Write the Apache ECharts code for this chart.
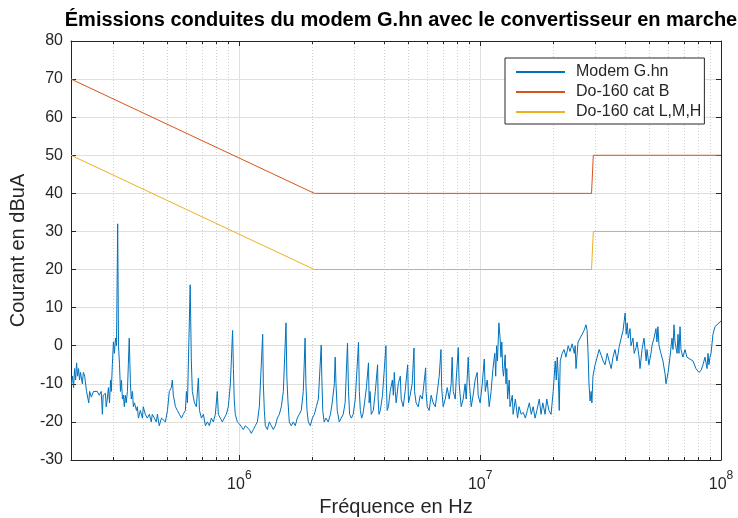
<!DOCTYPE html>
<html>
<head>
<meta charset="utf-8">
<script src="https://cdn.jsdelivr.net/npm/echarts@6/dist/echarts.min.js"></script>
<style>
  html, body { margin: 0; padding: 0; background: #fff; }
  #chart { width: 738px; height: 518px; }
</style>
</head>
<body>
<div id="chart"></div>
<script>
// Conducted emission measurement of the G.hn modem: [frequency in MHz, level in dBuA]
const modemPoints = [
  [0.201,-10],[0.203,-8],[0.205,-11],[0.207,-6],[0.209,-9],[0.211,-4.5],[0.213,-8],[0.215,-6],[0.217,-9],[0.219,-7],
  [0.221,-6.5],[0.223,-10],[0.225,-7],[0.228,-8],[0.232,-12],[0.237,-15],[0.239,-12],[0.243,-13.5],[0.248,-12],[0.252,-12.5],
  [0.257,-12],[0.262,-13],[0.267,-12],[0.270,-18],[0.272,-13],[0.278,-12.5],[0.280,-16],[0.283,-14],[0.286,-11],[0.289,-15],
  [0.292,-9],[0.294,-12],[0.297,-5],[0.300,1],[0.303,-2],[0.306,2],[0.309,0],[0.3125,32],[0.315,0],[0.318,-5],
  [0.321,-12],[0.324,-9],[0.327,-14],[0.330,-13],[0.333,-16],[0.336,-13],[0.339,-15],[0.343,-12],[0.346,-5],[0.349,2],
  [0.353,-10],[0.356,-14],[0.360,-12],[0.363,-16],[0.367,-15],[0.374,-17],[0.377,-16],[0.381,-19],[0.388,-17],[0.396,-19],
  [0.399,-16],[0.407,-18],[0.415,-19],[0.423,-18],[0.431,-20],[0.435,-18],[0.444,-19],[0.452,-20],[0.457,-18],[0.465,-21],
  [0.475,-19],[0.484,-19.5],[0.493,-20],[0.503,-17],[0.512,-12],[0.522,-11],[0.527,-9],[0.532,-13],[0.543,-16],[0.553,-17],
  [0.564,-18],[0.575,-19],[0.585,-18],[0.597,-17],[0.603,-12],[0.609,-15],[0.625,16],[0.632,-4],[0.638,-12],[0.651,-15],
  [0.663,-16],[0.676,-8.5],[0.683,-17],[0.696,-19],[0.709,-18],[0.723,-21],[0.737,-20],[0.751,-21],[0.765,-19],[0.780,-20],
  [0.795,-18],[0.810,-12],[0.818,-18],[0.834,-19],[0.850,-20],[0.866,-19],[0.883,-18],[0.900,-16],[0.918,-10],[0.9375,4],
  [0.945,-6],[0.952,-14],[0.962,-18],[0.981,-20],[1.000,-20.5],[1.019,-21],[1.039,-22],[1.059,-21],[1.079,-21.5],[1.100,-22],
  [1.121,-23],[1.143,-22],[1.165,-21],[1.188,-20],[1.211,-16],[1.25,3],[1.258,-10],[1.27,-17],[1.282,-21],[1.307,-22],
  [1.332,-20],[1.358,-21],[1.384,-22],[1.411,-21],[1.438,-19],[1.466,-18],[1.494,-16],[1.523,-12],[1.5625,6],[1.575,-8],
  [1.59,-14],[1.612,-20],[1.643,-21],[1.675,-20],[1.707,-21],[1.740,-19],[1.774,-18],[1.808,-17],[1.843,-12],[1.875,2],
  [1.89,-10],[1.91,-17],[1.934,-20],[1.972,-21],[2.010,-19],[2.049,-18],[2.088,-16],[2.129,-14],[2.1875,0.2],[2.20,-8],
  [2.22,-17],[2.25,-20],[2.29,-19],[2.34,-20],[2.39,-18],[2.43,-15],[2.48,-10],[2.50,-3],[2.52,-10],[2.55,-17],
  [2.60,-20],[2.65,-19],[2.70,-18],[2.75,-15],[2.8125,0.7],[2.84,-12],[2.87,-18],[2.92,-19],[2.97,-18],[3.03,-14],
  [3.125,0.9],[3.15,-12],[3.18,-17],[3.22,-19],[3.26,-18],[3.31,-15],[3.37,-11],[3.4375,-4.5],[3.46,-15],[3.49,-12],
  [3.53,-18],[3.60,-17],[3.67,-12],[3.75,-5],[3.77,-14],[3.80,-18],[3.85,-17],[3.93,-13],[4.0625,0],[4.08,-10],
  [4.11,-17],[4.16,-16],[4.23,-12],[4.32,-9],[4.36,-13],[4.40,-7],[4.44,-12],[4.48,-15],[4.57,-10],[4.66,-8],
  [4.70,-14],[4.79,-16],[4.88,-12],[5.00,-5],[5.04,-15],[5.12,-13],[5.22,-10],[5.3125,-0.6],[5.34,-12],[5.42,-15],
  [5.53,-16],[5.64,-13],[5.75,-14],[5.9375,-5.8],[5.96,-12],[6.03,-16],[6.14,-17],[6.26,-13],[6.38,-15],[6.51,-16],
  [6.64,-12],[6.76,-8],[6.875,-1],[6.92,-11],[7.02,-16],[7.16,-14],[7.30,-11],[7.44,-14],[7.58,-10],[7.65,-3],
  [7.73,-12],[7.88,-14],[7.95,-9],[8.11,-0.5],[8.18,-10],[8.34,-16],[8.50,-14],[8.66,-10],[8.75,-14],[8.92,-3],
  [9.00,-9],[9.18,-16],[9.35,-13],[9.53,-9],[9.72,-7],[9.81,-13],[10.0,-15],[10.2,-10],[10.4,-3.5],[10.5,-12],
  [10.7,-9],[10.9,-16],[11.1,-12],[11.3,-6],[11.5,-2],[11.6,-8],[11.7,0],[11.8,-4],[11.96,6],[12.1,2],
  [12.2,-3],[12.3,1],[12.4,-6],[12.5,-8],[12.7,-2.4],[12.8,-10],[12.9,-6],[13.0,-14],[13.2,-9],[13.3,-16],
  [13.6,-13],[13.7,-18],[14.0,-14],[14.3,-19],[14.5,-16],[14.8,-18],[15.1,-17.5],[15.4,-19],[15.7,-17],[16.0,-15],
  [16.3,-18],[16.6,-16],[16.9,-19],[17.2,-17],[17.6,-14],[17.9,-18],[18.2,-15],[18.6,-18],[18.9,-14],[19.3,-17],
  [19.7,-18],[20.1,-12],[20.5,-4],[20.7,-9],[20.9,-3],[21.1,-8],[21.3,-17],[21.5,-4],[21.9,-2],[22.3,-1],
  [22.7,-3],[23.2,0],[23.6,-1.5],[24.1,0.5],[24.6,-2],[24.8,0],[25.0,-6],[25.5,1],[26.0,2],[26.5,3],
  [27.0,4],[27.5,5.5],[27.8,4],[28.1,-3],[28.3,-10],[28.6,-14.5],[28.9,-12],[29.1,-15],[29.4,-8],[30.0,-5],
  [30.6,-3],[31.2,-1],[31.8,-2.5],[32.4,-4],[33.0,-5],[33.7,-2],[34.3,-4],[35.0,-6],[35.6,-3],[36.3,-1],
  [37.0,-4],[37.7,-0.5],[38.5,2],[39.2,4],[40.0,8.6],[40.4,3],[40.8,6],[41.2,2],[41.9,4.5],[42.3,0],
  [43.1,2],[43.6,-2],[44.4,-0.5],[44.8,1],[45.7,-3],[46.1,-6],[47.0,-1],[47.9,2],[48.9,-4],[49.3,-1],
  [50.2,-5],[51.2,-2],[51.7,0],[52.7,2],[53.7,4.5],[54.2,1],[54.7,5],[55.3,0],[56.3,-2],[57.4,-4],
  [58.6,-7.5],[59.1,-10],[60.3,-7],[61.4,-3],[62.6,2],[63.2,-1],[63.8,5.5],[64.4,1],[65.7,-2],[66.3,3],
  [66.9,-2],[67.6,5],[68.2,-1],[69.5,-3],[70.9,-1],[72.2,-3],[74.3,-3.5],[76.5,-4],[78.7,-6],[81.0,-7],
  [82.6,-6.5],[84.2,-5],[85.8,-3],[87.5,-6],[88.3,-2],[89.1,-5],[90.0,-3],[90.9,-2],[92.6,3],[94.4,5],
  [96.2,5.5],[98.1,6],[100,6.5]
];

// DO-160 limit lines (frequency in Hz, level in dBuA)
const catBFreqHz  = [2e5, 2.05e6, 2.9e7, 2.95e7, 1e8];
const catBLevel   = [70, 40, 40, 50, 50];
const catLMHFreqHz = [2e5, 2.05e6, 2.9e7, 2.95e7, 1e8];
const catLMHLevel  = [50, 20, 20, 30, 30];

// Axis ranges and ticks
const freqMinHz = 2e5, freqMaxHz = 1e8;
const levelMin = -30, levelMax = 80, levelStep = 10;
const decadesHz = [1e5, 1e6, 1e7];

const seriesNames = ['Modem G.hn', 'Do-160 cat B', 'Do-160 cat L,M,H'];
const seriesColors = ['#0072BD', '#D95319', '#EDB120'];

// Minor logarithmic grid positions: 2..9 x each decade inside the range
const minorGridHz = [];
decadesHz.forEach(d => {
  for (let k = 2; k <= 9; k++) {
    const v = k * d;
    if (v > freqMinHz && v < freqMaxHz) minorGridHz.push(v);
  }
});

const axisInk = '#262626';
const fontFamily = '"Liberation Sans", Arial, Helvetica, sans-serif';

const zip = (xs, ys) => xs.map((x, i) => [x, ys[i]]);

const chart = echarts.init(document.getElementById('chart'), null, { renderer: 'canvas' });

const powerLabel = v => {
  const e = Math.log10(v);
  const r = Math.round(e);
  if (Math.abs(e - r) > 1e-6) return '';
  return '{b|10}{s|' + r + '}';
};

const boxAxis = {
  axisLine: { show: true, onZero: false, lineStyle: { color: axisInk, width: 1 } },
  axisTick: { show: true, inside: true, length: 5, lineStyle: { color: axisInk } }
};

chart.setOption({
  animation: false,
  backgroundColor: '#ffffff',
  textStyle: { fontFamily: fontFamily },
  title: {
    text: 'Émissions conduites du modem G.hn avec le convertisseur en marche',
    left: 396,
    top: 5,
    textAlign: 'center',
    textStyle: { fontFamily: fontFamily, fontSize: 20, fontWeight: 'bold', color: '#000' }
  },
  legend: {
    data: seriesNames,
    orient: 'vertical',
    left: 505,
    top: 58,
    padding: [6, 3, 4, 10],
    itemWidth: 49,
    itemHeight: 16,
    itemGap: 4,
    align: 'left',
    backgroundColor: '#fff',
    borderColor: axisInk,
    borderWidth: 1,
    borderRadius: 0,
    itemStyle: { opacity: 0 },
    textStyle: { fontFamily: fontFamily, fontSize: 16, lineHeight: 16, color: axisInk, padding: [0, 0, 0, 6] }
  },
  grid: { left: 71, right: 17, top: 41, bottom: 58, containLabel: false, outerBoundsMode: 'none' },
  xAxis: [
    Object.assign({
      type: 'log',
      logBase: 10,
      position: 'bottom',
      min: freqMinHz,
      max: freqMaxHz,
      name: 'Fréquence en Hz',
      nameLocation: 'middle',
      nameGap: 37,
      nameTextStyle: { fontFamily: fontFamily, fontSize: 20, color: axisInk },
      axisLabel: {
        show: true,
        margin: 10,
        formatter: powerLabel,
        rich: {
          b: { fontFamily: fontFamily, fontSize: 16, color: axisInk, lineHeight: 23, verticalAlign: 'bottom' },
          s: { fontFamily: fontFamily, fontSize: 12, color: axisInk, lineHeight: 23, verticalAlign: 'top' }
        }
      },
      splitLine: { show: true, lineStyle: { color: '#dfdfdf', width: 1 } }
    }, boxAxis),
    Object.assign({
      type: 'log',
      logBase: 10,
      position: 'top',
      min: freqMinHz,
      max: freqMaxHz,
      axisLabel: { show: false },
      splitLine: { show: false }
    }, boxAxis)
  ],
  yAxis: [
    Object.assign({
      type: 'value',
      position: 'left',
      min: levelMin,
      max: levelMax,
      interval: levelStep,
      name: 'Courant en dBuA',
      nameLocation: 'middle',
      nameGap: 36,
      nameTextStyle: { fontFamily: fontFamily, fontSize: 20, color: axisInk },
      axisLabel: { show: true, margin: 8, fontFamily: fontFamily, fontSize: 16, color: axisInk },
      splitLine: { show: true, lineStyle: { color: '#dfdfdf', width: 1 } }
    }, boxAxis),
    Object.assign({
      type: 'value',
      position: 'right',
      min: levelMin,
      max: levelMax,
      interval: levelStep,
      axisLabel: { show: false },
      splitLine: { show: false }
    }, boxAxis)
  ],
  series: [
    {
      // dotted minor grid and minor ticks of the logarithmic frequency axis
      name: 'minor-grid',
      type: 'custom',
      xAxisIndex: 0,
      yAxisIndex: 0,
      silent: true,
      z: 1,
      data: minorGridHz.map(v => [v, levelMin]),
      encode: { x: 0, y: 1 },
      renderItem: (params, api) => {
        const x = Math.round(api.coord([api.value(0), levelMin])[0]) + 0.5;
        const top = params.coordSys.y;
        const bottom = top + params.coordSys.height;
        return {
          type: 'group',
          children: [
            { type: 'line', shape: { x1: x, y1: top, x2: x, y2: bottom },
              style: { stroke: '#cfcfcf', lineWidth: 1, lineDash: [1, 2] } },
            { type: 'line', shape: { x1: x, y1: bottom, x2: x, y2: bottom - 3 },
              style: { stroke: axisInk, lineWidth: 1 } },
            { type: 'line', shape: { x1: x, y1: top, x2: x, y2: top + 3 },
              style: { stroke: axisInk, lineWidth: 1 } }
          ]
        };
      }
    },
    {
      name: seriesNames[0],
      type: 'line',
      xAxisIndex: 0, yAxisIndex: 0,
      symbol: 'none', showSymbol: false,
      z: 3,
      color: seriesColors[0],
      lineStyle: { color: seriesColors[0], width: 1 },
      data: modemPoints.map(p => [p[0] * 1e6, p[1]])
    },
    {
      name: seriesNames[1],
      type: 'line',
      xAxisIndex: 0, yAxisIndex: 0,
      symbol: 'none', showSymbol: false,
      z: 3,
      color: seriesColors[1],
      lineStyle: { color: seriesColors[1], width: 1 },
      data: zip(catBFreqHz, catBLevel)
    },
    {
      name: seriesNames[2],
      type: 'line',
      xAxisIndex: 0, yAxisIndex: 0,
      symbol: 'none', showSymbol: false,
      z: 3,
      color: seriesColors[2],
      lineStyle: { color: seriesColors[2], width: 1 },
      data: zip(catLMHFreqHz, catLMHLevel)
    }
  ]
});
</script>
</body>
</html>
